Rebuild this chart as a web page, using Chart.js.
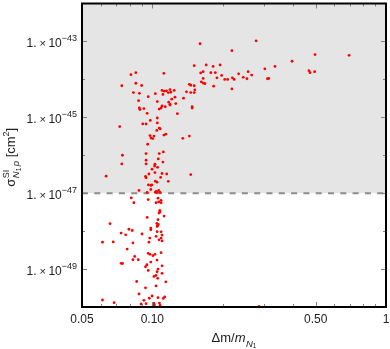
<!DOCTYPE html>
<html>
<head>
<meta charset="utf-8">
<script src="https://cdn.jsdelivr.net/npm/chart.js@4.4.0/dist/chart.umd.min.js"></script>
<style>
  html, body { margin: 0; padding: 0; background: #fff; }
  canvas { display: block; }
</style>
</head>
<body>
<canvas id="scatterChart" width="390" height="349"></canvas>
<script>
// Δm / m_N1 for each point
const massRatio = [
  0.160, 0.278, 0.219, 0.497, 0.695, 0.396, 0.151, 0.170, 0.182, 0.195,
  0.335, 0.303, 0.468, 0.473, 0.495, 0.161, 0.165, 0.178, 0.186, 0.257,
  0.234, 0.266, 0.198, 0.165, 0.189, 0.204, 0.210, 0.220, 0.224, 0.245,
  0.254, 0.311, 0.315, 0.162, 0.165, 0.168, 0.144, 0.146, 0.151, 0.183,
  0.219, 0.140, 0.146, 0.151, 0.152, 0.136, 0.148, 0.148, 0.081, 0.085,
  0.112, 0.074, 0.085, 0.090, 0.083, 0.088, 0.096, 0.103, 0.110, 0.1125,
  0.115, 0.111, 0.117, 0.119, 0.120, 0.124, 0.125, 0.121, 0.0873, 0.105,
  0.1175, 0.119, 0.126, 0.110, 0.1136, 0.109, 0.088, 0.092, 0.0885, 0.107,
  0.119, 0.095, 0.105, 0.128, 0.098, 0.105, 0.091, 0.094, 0.0725, 0.107,
  0.108, 0.1045, 0.1142, 0.112, 0.0977, 0.1016, 0.0987, 0.1004, 0.135, 0.144,
  0.0955, 0.1114, 0.094, 0.107, 0.0745, 0.106, 0.094, 0.094, 0.111, 0.1026,
  0.1023, 0.074, 0.1053, 0.0997, 0.110, 0.1152, 0.1026, 0.0967, 0.146, 0.0634,
  0.0935, 0.094, 0.1085, 0.103, 0.1047, 0.117, 0.0962, 0.0985, 0.0995, 0.0985,
  0.0877, 0.095, 0.1037, 0.1065, 0.1047, 0.1079, 0.103, 0.0812, 0.096, 0.1057,
  0.109, 0.1065, 0.109, 0.0833, 0.1037, 0.1076, 0.1079, 0.1068, 0.1122, 0.095,
  0.1057, 0.0659, 0.1045, 0.106, 0.1052, 0.1048, 0.0985, 0.0985, 0.0794, 0.082,
  0.1048, 0.109, 0.0735, 0.0769, 0.0903, 0.110, 0.1037, 0.109, 0.1068, 0.0975,
  0.0612, 0.068, 0.0826, 0.110, 0.0967, 0.078, 0.096, 0.0977, 0.1006, 0.1026,
  0.109, 0.084, 0.0826, 0.087, 0.1047, 0.0985, 0.0735, 0.0745, 0.0948, 0.0935,
  0.110, 0.1057, 0.1048, 0.096, 0.110, 0.1036, 0.1016, 0.1054, 0.0857, 0.1142,
  0.1037, 0.0935, 0.0877, 0.0997, 0.1057, 0.113, 0.1114, 0.097, 0.092, 0.0612,
  0.0686, 0.0895, 0.094, 0.1016, 0.1072, 0.102, 0.101, 0.1079, 0.286
];

// spin-independent cross section [cm^2]
const sigmaSI = [
  8.7e-44, 1.04e-43, 5.7e-44, 4.5e-44, 4.3e-44, 3.0e-44, 2.3e-44, 2.4e-44, 2.2e-44, 2.4e-44,
  2.2e-44, 1.9e-44, 1.7e-44, 1.5e-44, 1.6e-44, 1.48e-44, 1.6e-44, 1.5e-44, 1.5e-44, 1.6e-44,
  1.4e-44, 1.3e-44, 1.27e-44, 1.06e-44, 1.1e-44, 1.0e-44, 1.0e-44, 1.1e-44, 1.0e-44, 1.13e-44,
  1.04e-44, 1.04e-44, 1.06e-44, 8.6e-45, 8.0e-45, 7.7e-45, 7.4e-45, 7.0e-45, 6.8e-45, 6.6e-45,
  5.6e-45, 4.7e-45, 4.5e-45, 4.5e-45, 5.3e-45, 3.2e-45, 1.9e-45, 1.75e-45, 1.33e-44, 1.5e-44,
  1.44e-44, 6.8e-45, 7.9e-45, 6.9e-45, 4.5e-45, 4.3e-45, 3.5e-45, 4.2e-45, 5.1e-45, 4.9e-45,
  5.0e-45, 4.0e-45, 4.5e-45, 5.4e-45, 4.6e-45, 5.1e-45, 3.4e-45, 3.0e-45, 2.75e-45, 2.6e-45,
  2.5e-45, 2.2e-45, 2.3e-45, 2.0e-45, 1.9e-45, 1.76e-45, 1.76e-45, 1.7e-45, 1.6e-45, 1.65e-45,
  2.1e-45, 1.27e-45, 9.6e-46, 1.25e-45, 8.3e-46, 7.1e-46, 6.7e-46, 6.7e-46, 5.7e-46, 5.2e-46,
  5.0e-46, 4.5e-46, 3.6e-46, 3.4e-46, 3.3e-46, 3.2e-46, 2.85e-46, 2.75e-46, 2.8e-46, 3.2e-46,
  1.95e-46, 1.22e-46, 1.11e-46, 1.11e-46, 1.0e-46, 8.0e-47, 7.4e-47, 5.9e-47, 6.6e-47, 5.8e-47,
  5.2e-47, 5.9e-47, 4.8e-47, 4.3e-47, 3.3e-47, 3.2e-47, 3.5e-47, 3.2e-47, 3.1e-47, 2.8e-47,
  2.75e-47, 2.55e-47, 2.6e-47, 2.07e-47, 1.95e-47, 2.05e-47, 1.65e-47, 1.6e-47, 1.65e-47, 1.25e-47,
  1.18e-47, 1.05e-47, 1.11e-47, 1.18e-47, 1.06e-47, 1.05e-47, 1.05e-47, 7.5e-48, 6.8e-48, 7.4e-48,
  6.5e-48, 5.9e-48, 5.6e-48, 5.6e-48, 5.6e-48, 3.5e-48, 3.2e-48, 3.0e-48, 2.5e-48, 2.3e-48,
  2.0e-48, 1.57e-48, 1.6e-48, 1.5e-48, 1.38e-48, 1.33e-48, 1.2e-48, 1.08e-48, 1.12e-48, 1.04e-48,
  9.7e-49, 9.6e-49, 8.9e-49, 8.0e-49, 8.4e-49, 7.85e-49, 7.3e-49, 6.55e-49, 5.9e-49, 6.55e-49,
  5.1e-49, 5.2e-49, 4.9e-49, 5.5e-49, 5.1e-49, 3.36e-49, 2.6e-49, 2.45e-49, 2.25e-49, 2.45e-49,
  2.7e-49, 2.15e-49, 1.76e-49, 1.76e-49, 1.73e-49, 1.53e-49, 1.42e-49, 1.4e-49, 1.3e-49, 1.15e-49,
  1.22e-49, 1.0e-49, 8.5e-50, 9.2e-50, 7.7e-50, 6.8e-50, 6.4e-50, 5.7e-50, 4.7e-50, 4.6e-50,
  3.6e-50, 3.2e-50, 2.2e-50, 1.95e-50, 1.76e-50, 1.85e-50, 1.68e-50, 1.7e-50, 1.5e-50, 1.53e-50,
  1.3e-50, 1.2e-50, 1.22e-50, 1.24e-50, 1.27e-50, 1.13e-50, 1.1e-50, 1.1e-50, 1.03e-50
];

const sigmaLimit = 1e-47;
const xTicks = [0.05, 0.1, 0.5, 1];
const xTickLabels = ['0.05', '0.10', '0.50', '1'];
const xMinorTicks = [0.06, 0.07, 0.08, 0.09, 0.2, 0.3, 0.4, 0.6, 0.7, 0.8, 0.9];
const yTickExps = [-43, -45, -47, -49];
const yMinorExps = [-44, -46, -48];

const FONT = "'Liberation Sans', Arial, sans-serif";

function setFont(ctx, p) {
  ctx.font = (p.it ? 'italic ' : '') + p.size + 'px ' + FONT;
}
function richWidth(ctx, parts) {
  let w = 0;
  parts.forEach(p => { setFont(ctx, p); if (!p.stay) w += ctx.measureText(p.t).width + (p.gap || 0); });
  return w;
}
function drawRich(ctx, parts, x, y) {
  parts.forEach(p => {
    setFont(ctx, p);
    ctx.fillText(p.t, x, y + (p.dy || 0));
    if (!p.stay) x += ctx.measureText(p.t).width + (p.gap || 0);
  });
}

const plotDecor = {
  id: 'plotDecor',
  beforeDatasetsDraw(chart) {
    const { ctx, chartArea: a, scales: { y } } = chart;
    const yl = y.getPixelForValue(sigmaLimit);
    ctx.save();
    ctx.fillStyle = '#e5e5e5';
    ctx.fillRect(a.left, a.top, a.right - a.left, yl - a.top);
    ctx.strokeStyle = '#8c8c8c';
    ctx.lineWidth = 2;
    ctx.setLineDash([6, 6.3]);
    ctx.beginPath();
    ctx.moveTo(a.left, yl);
    ctx.lineTo(a.right, yl);
    ctx.stroke();
    ctx.restore();
  },
  afterDraw(chart) {
    const { ctx, chartArea: a, scales: { x, y } } = chart;
    ctx.save();
    // ticks inside the frame
    ctx.strokeStyle = '#808080';
    ctx.lineWidth = 1;
    const xt = (v, len) => {
      const px = Math.round(x.getPixelForValue(v)) + 0.5;
      ctx.beginPath();
      ctx.moveTo(px, a.bottom); ctx.lineTo(px, a.bottom - len);
      ctx.moveTo(px, a.top); ctx.lineTo(px, a.top + len);
      ctx.stroke();
    };
    const yt = (v, len) => {
      const py = Math.round(y.getPixelForValue(v)) + 0.5;
      ctx.beginPath();
      ctx.moveTo(a.left, py); ctx.lineTo(a.left + len, py);
      ctx.moveTo(a.right, py); ctx.lineTo(a.right - len, py);
      ctx.stroke();
    };
    xTicks.forEach(v => xt(v, 5));
    xMinorTicks.forEach(v => xt(v, 3));
    yTickExps.forEach(e => yt(Math.pow(10, e), 5));
    yMinorExps.forEach(e => yt(Math.pow(10, e), 3));

    // frame
    ctx.strokeStyle = '#000';
    ctx.lineWidth = 2;
    ctx.strokeRect(a.left, a.top, a.right - a.left, a.bottom - a.top);

    // tick labels
    ctx.fillStyle = '#222';
    ctx.textBaseline = 'alphabetic';
    ctx.textAlign = 'center';
    ctx.font = '12px ' + FONT;
    xTicks.forEach((v, i) => {
      ctx.fillText(xTickLabels[i], x.getPixelForValue(v), 323);
    });
    ctx.textAlign = 'left';
    yTickExps.forEach(e => {
      const py = y.getPixelForValue(Math.pow(10, e));
      const parts = [
        { t: '1.', size: 12, gap: 3 },
        { t: '×', size: 11, gap: 2.5 },
        { t: '10', size: 12 },
        { t: '−' + Math.abs(e), size: 9, dy: -6.5 }
      ];
      drawRich(ctx, parts, 77 - richWidth(ctx, parts), py + 6);
    });

    // x title
    const xTitle = [
      { t: 'Δm/', size: 13 },
      { t: 'm', size: 13, it: true, gap: 0.5 },
      { t: 'N', size: 9.5, it: true, dy: 4.5 },
      { t: '1', size: 6.5, dy: 5.5 }
    ];
    const cx = (a.left + a.right) / 2;
    drawRich(ctx, xTitle, cx - richWidth(ctx, xTitle) / 2, 342);

    // y title, rotated
    const yTitle = [
      { t: 'σ', size: 13, gap: 0.5 },
      { t: 'SI', size: 9, dy: -6.5, stay: true },
      { t: 'N', size: 9.5, it: true, dy: 3.5 },
      { t: '1', size: 6.5, dy: 5.5, gap: 1.5 },
      { t: 'p', size: 9.5, it: true, dy: 3.5 },
      { t: ' [cm', size: 13 },
      { t: '2', size: 9, dy: -6.5 },
      { t: ']', size: 13 }
    ];
    const cy = (a.top + a.bottom) / 2 + 2;
    ctx.translate(15, cy);
    ctx.rotate(-Math.PI / 2);
    drawRich(ctx, yTitle, -richWidth(ctx, yTitle) / 2, 0);
    ctx.restore();
  }
};

const points = massRatio.map((m, i) => ({ x: m, y: sigmaSI[i] }));

new Chart(document.getElementById('scatterChart'), {
  type: 'scatter',
  data: {
    datasets: [{
      data: points,
      backgroundColor: '#ff0000',
      borderWidth: 0,
      pointRadius: 1.4,
      pointHoverRadius: 1.4
    }]
  },
  options: {
    responsive: false,
    animation: false,
    devicePixelRatio: 1,
    layout: { padding: { top: 3.5, right: 4, left: 0, bottom: 0 } },
    plugins: { legend: { display: false }, tooltip: { enabled: false } },
    scales: {
      x: {
        type: 'logarithmic',
        min: 0.05,
        max: 1,
        ticks: { display: false },
        grid: { display: false },
        border: { display: false },
        afterFit(scale) { scale.height = 42; }
      },
      y: {
        type: 'logarithmic',
        min: 1e-50,
        max: 1e-42,
        ticks: { display: false },
        grid: { display: false },
        border: { display: false },
        afterFit(scale) { scale.width = 82; }
      }
    }
  },
  plugins: [plotDecor]
});
</script>
</body>
</html>
